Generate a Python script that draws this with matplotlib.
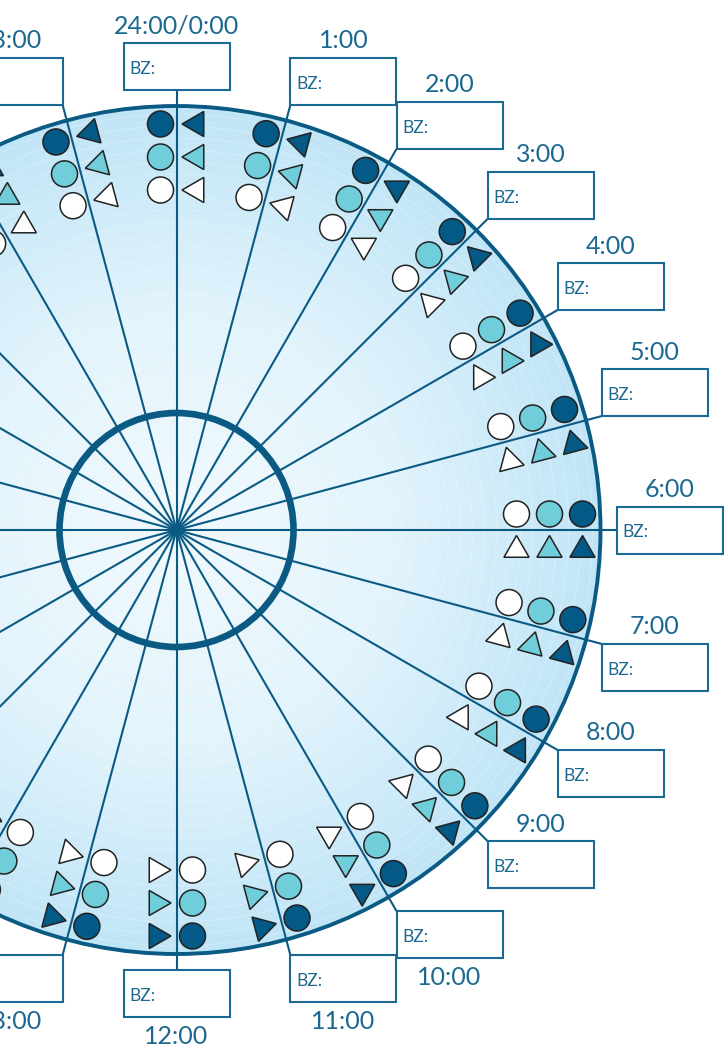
import numpy as np
import matplotlib
matplotlib.use("Agg")
import matplotlib.pyplot as plt
from matplotlib.patches import Circle, RegularPolygon, Rectangle
from matplotlib.colors import LinearSegmentedColormap

# Data: one spoke per hour, 24h clock, 0:00 at top, running clockwise
hours = list(range(24))
hour_labels = ["24:00/0:00"] + [f"{h}:00" for h in range(1, 24)]
box_texts = ["BZ:"] * 24
# marker fill colours, from the rim inwards
marker_fills = ["#045a86", "#70cdda", "#ffffff"]

# Styles / geometry (in pixels, centre of the dial at the origin)
ring_radii = [406, 373, 340]
R_OUT = 424
R_IN = 117
SPOKE_LEN = 440
BOX_W, BOX_H = 106, 47
DARK = "#0b5a84"
TEXT = "#1b6891"
X0, X1 = -176.5, 547.5

plt.rcParams["font.family"] = ["Lato", "DejaVu Sans"]

fig = plt.figure(figsize=(7.24, 10.5), dpi=100)
ax = fig.add_axes([0, 0, 1, 1])
ax.set_xlim(X0, X1)
ax.set_ylim(-520, 530)
ax.axis("off")

# radial gradient fill of the dial
cmap = LinearSegmentedColormap.from_list("dial", ["#f1fafe", "#e3f4fc", "#c0e5f7"])
n = 600
g = np.linspace(-R_OUT, R_OUT, n)
gx, gy = np.meshgrid(g, g)
rr = np.sqrt(gx ** 2 + gy ** 2) / R_OUT
img = ax.imshow(rr, extent=[-R_OUT, R_OUT, -R_OUT, R_OUT], origin="lower",
                cmap=cmap, vmin=0, vmax=1, zorder=0, interpolation="bilinear")
clip = Circle((0, 0), R_OUT, transform=ax.transData)
img.set_clip_path(clip)

# faint concentric rings
for r in np.arange(20, R_OUT, 12):
    ax.add_patch(Circle((0, 0), r, fill=False, ec="white", lw=0.5, alpha=0.35, zorder=1))

for h in hours:
    th = np.radians(90 - 15 * h)
    ux, uy = np.cos(th), np.sin(th)
    nx, ny = -np.sin(th), np.cos(th)

    # spoke
    ax.plot([0, SPOKE_LEN * ux], [0, SPOKE_LEN * uy], color=DARK, lw=1.5,
            zorder=2, solid_capstyle="butt")

    # circles on the counter-clockwise side, triangles on the clockwise side
    for r, fc in zip(ring_radii, marker_fills):
        ax.add_patch(Circle((r * ux + 16 * nx, r * uy + 16 * ny), 13, fc=fc,
                            ec="#222222", lw=1.1, zorder=4))
        ax.add_patch(RegularPolygon((r * ux - 20 * nx, r * uy - 20 * ny), 3, radius=14.5,
                                    orientation=th, fc=fc, ec="#222222", lw=1.1,
                                    zorder=4))

    # label box at the end of the spoke
    px, py = SPOKE_LEN * ux, SPOKE_LEN * uy
    if abs(ux) < 1e-6:
        bx = px - BOX_W / 2
    elif ux > 0:
        bx = px
    else:
        bx = px - BOX_W
    if abs(uy) < 1e-6:
        by = py - BOX_H / 2
    elif uy > 0:
        by = py
    else:
        by = py - BOX_H
    if bx + BOX_W < X0:
        continue  # box lies entirely outside the cropped view
    ax.add_patch(Rectangle((bx, by), BOX_W, BOX_H, fc="white", ec="#1a6a94",
                           lw=1.5, zorder=5))
    ax.text(bx + 6, by + BOX_H * 0.45, box_texts[h], fontsize=12.5, color=TEXT,
            ha="left", va="center", zorder=6)
    if uy < -0.8:
        ty = by - 19
    else:
        ty = by + BOX_H + 17
    ax.text(bx + BOX_W / 2, ty, hour_labels[h], fontsize=18, color=TEXT,
            ha="center", va="center", zorder=6)

# inner and outer rings
ax.add_patch(Circle((0, 0), R_IN, fill=False, ec=DARK, lw=4.8, zorder=3))
ax.add_patch(Circle((0, 0), R_OUT, fill=False, ec=DARK, lw=2.8, zorder=3))

fig.savefig("out.png", dpi=100)
